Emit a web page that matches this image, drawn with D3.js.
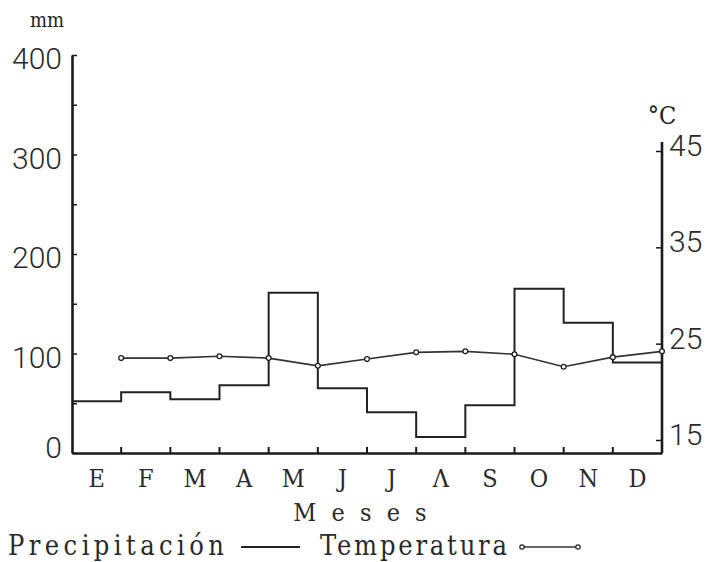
<!DOCTYPE html>
<html><head><meta charset="utf-8">
<script src="https://cdn.jsdelivr.net/npm/d3@7"></script>
<style>
body{margin:0;background:#fff;}
svg{display:block;}
</style></head>
<body>
<script>
const months = ["E","F","M","A","M ","J","J ","Λ","S","O","N","D"];
const precip = [52, 61, 54, 68, 161, 65, 41, 16, 48, 165, 131, 91];
const temp = [23.5, 23.5, 23.7, 23.5, 22.7, 23.4, 24.1, 24.2, 23.9, 22.6, 23.6, 24.2];
const precipTicks = [0, 50, 100, 150, 200, 250, 300, 350, 400];
const tempTicks = [15, 25, 35, 45];

const W = 711, H = 562;
const svg = d3.select("body").append("svg").attr("width", W).attr("height", H);

const x = d3.scaleBand().domain(months).range([72, 662]).padding(0);
const yP = d3.scaleLinear().domain([0, 400]).range([453, 55]);
const yT = d3.scaleLinear().domain([15, 45]).range([440, 151]);
const ink = "#1a1a1a";
const numFont = "Roboto, 'Liberation Sans', Arial, sans-serif";
const txtFont = "'DejaVu Serif Condensed', 'DejaVu Serif', serif";

// left axis
const gL = svg.append("g").attr("transform", `translate(${x.range()[0]},0)`)
  .call(d3.axisLeft(yP).tickValues(precipTicks).tickSizeInner(-5).tickSizeOuter(0).tickPadding(10)
    .tickFormat(d => d % 100 === 0 ? d : ""));
gL.select(".domain").attr("stroke", ink).attr("stroke-width", 2.6);
gL.selectAll(".tick line").attr("stroke", ink).attr("stroke-width", 1.5);
gL.selectAll(".tick text").attr("font-family", numFont).attr("font-size", 30).attr("fill", "#2a2a2a")
  .attr("font-weight", 300).attr("dy", d => d === 0 ? "0.15em" : "0.45em");

// right axis
const gR = svg.append("g").attr("transform", `translate(${x.range()[1]},0)`)
  .call(d3.axisRight(yT).tickValues(tempTicks).tickSizeInner(-6).tickSizeOuter(0).tickPadding(7));
gR.select(".domain").remove();
gR.append("line").attr("x1", 0).attr("x2", 0).attr("y1", yT(45) - 9).attr("y2", yP(0))
  .attr("stroke", ink).attr("stroke-width", 2.6);
gR.selectAll(".tick line").attr("stroke", ink).attr("stroke-width", 1.5);
gR.selectAll(".tick text").attr("font-family", numFont).attr("font-size", 30).attr("fill", "#2a2a2a")
  .attr("font-weight", 300).attr("dy", "0.15em");

// bottom axis
const gB = svg.append("g").attr("transform", `translate(0,${yP(0)})`)
  .call(d3.axisBottom(x).tickSize(0).tickPadding(16).tickSizeOuter(0));
gB.select(".domain").attr("stroke", ink).attr("stroke-width", 2.6);
gB.selectAll(".tick text").attr("font-family", txtFont).attr("font-size", 25).attr("fill", "#2a2a2a")
  .text(d => d.trim());
// boundary ticks
gB.selectAll(".btick").data(months.slice(0, -1)).join("line").attr("class", "btick")
  .attr("x1", d => x(d) + x.bandwidth()).attr("x2", d => x(d) + x.bandwidth())
  .attr("y1", 0).attr("y2", -6).attr("stroke", ink).attr("stroke-width", 2);

// precipitation step line
const stepPts = months.map((m, i) => [x(m), precip[i]]);
stepPts.push([x(months[months.length - 1]) + x.bandwidth(), precip[precip.length - 1]]);
svg.append("path").datum(stepPts)
  .attr("d", d3.line().x(d => d[0]).y(d => yP(d[1])).curve(d3.curveStepAfter))
  .attr("fill", "none").attr("stroke", "#222").attr("stroke-width", 2);

// temperature line
const tPts = months.map((m, i) => [x(m) + x.bandwidth(), temp[i]]);
svg.append("path").datum(tPts)
  .attr("d", d3.line().x(d => d[0]).y(d => yT(d[1])))
  .attr("fill", "none").attr("stroke", "#333").attr("stroke-width", 1.6);
svg.selectAll(".tdot").data(tPts).join("circle").attr("class", "tdot")
  .attr("cx", d => d[0]).attr("cy", d => yT(d[1])).attr("r", 2.4)
  .attr("fill", "#fff").attr("stroke", "#222").attr("stroke-width", 1.3);

// unit labels
svg.append("text").attr("x", 47).attr("y", 27).attr("text-anchor", "middle")
  .attr("font-family", txtFont).attr("font-size", 20).attr("fill", "#222").text("mm");
svg.append("text").attr("x", 662).attr("y", 124).attr("text-anchor", "middle")
  .attr("font-family", txtFont).attr("font-size", 25).attr("fill", "#222").text("°C");

// x title
svg.append("text").attr("x", 362).attr("y", 521).attr("text-anchor", "middle")
  .attr("font-family", txtFont).attr("font-size", 25).attr("fill", "#2a2a2a")
  .attr("letter-spacing", 4).text("M e s e s");

// legend
const legY = 555;
svg.append("text").attr("x", 8).attr("y", legY).attr("textLength", 216).attr("lengthAdjust", "spacing")
  .attr("font-family", txtFont).attr("font-size", 27).attr("fill", "#2a2a2a").text("Precipitación");
svg.append("line").attr("x1", 241).attr("x2", 300).attr("y1", legY - 8).attr("y2", legY - 8)
  .attr("stroke", "#222").attr("stroke-width", 2);
svg.append("text").attr("x", 320).attr("y", legY).attr("textLength", 187).attr("lengthAdjust", "spacing")
  .attr("font-family", txtFont).attr("font-size", 27).attr("fill", "#2a2a2a").text("Temperatura");
svg.append("line").attr("x1", 522).attr("x2", 578).attr("y1", legY - 8).attr("y2", legY - 8)
  .attr("stroke", "#333").attr("stroke-width", 1.6);
svg.selectAll(".ldot").data([522, 578]).join("circle").attr("class", "ldot")
  .attr("cx", d => d).attr("cy", legY - 8).attr("r", 2.2)
  .attr("fill", "#fff").attr("stroke", "#222").attr("stroke-width", 1.2);
</script>
</body></html>
